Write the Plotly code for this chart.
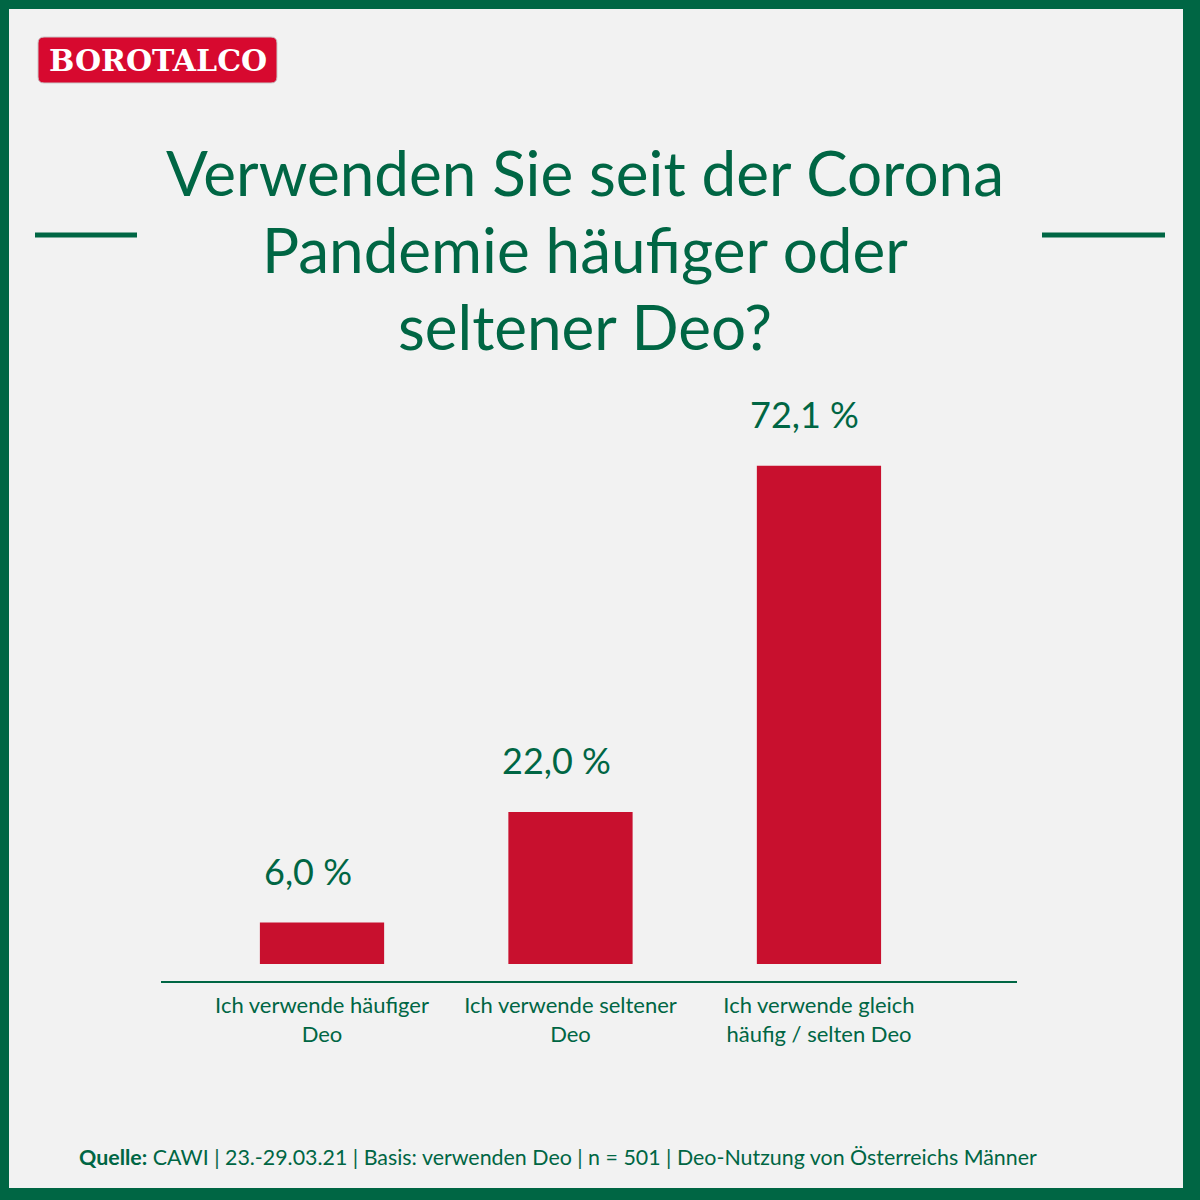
import plotly.graph_objects as go

# Chart data
categories = [
    "Ich verwende häufiger<br>Deo",
    "Ich verwende seltener<br>Deo",
    "Ich verwende gleich<br>häufig / selten Deo",
]
shares = [6.0, 22.0, 72.1]
value_labels = ["6,0 %", "22,0 %", "72,1 %"]

title_lines = [
    "Verwenden Sie seit der Corona",
    "Pandemie häufiger oder",
    "seltener Deo?",
]
source_text = (
    "<b>Quelle:</b> CAWI | 23.-29.03.21 | Basis: verwenden Deo | n = 501 | "
    "Deo-Nutzung von Österreichs Männer"
)

GREEN = "#006644"
RED = "#c8102e"
BG = "#f2f2f2"
W = H = 1200


def px_x(x):
    return x / W


def px_y(y):
    return 1 - y / H


fig = go.Figure()
fig.add_trace(go.Bar(
    x=categories,
    y=shares,
    width=0.5,
    marker={"color": RED, "line": {"width": 0}},
    hoverinfo="skip",
))

# Value labels above each bar
for cat, val, lab in zip(categories, shares, value_labels):
    fig.add_annotation(
        x=cat, y=val, text=lab, showarrow=False,
        xanchor="center", yanchor="bottom", yshift=28, xshift=-14,
        font={"family": "Lato", "size": 36, "color": GREEN},
    )

# Frame, background and decorative lines
shapes = [
    dict(type="rect", xref="paper", yref="paper", x0=0, x1=1, y0=0, y1=1,
         fillcolor=GREEN, line={"width": 0}, layer="below"),
    dict(type="rect", xref="paper", yref="paper",
         x0=px_x(9), x1=px_x(1183), y0=px_y(1188), y1=px_y(9),
         fillcolor=BG, line={"width": 0}, layer="below"),
    dict(type="line", xref="paper", yref="paper",
         x0=px_x(35), x1=px_x(137), y0=px_y(235), y1=px_y(235),
         line={"color": GREEN, "width": 5}, layer="below"),
    dict(type="line", xref="paper", yref="paper",
         x0=px_x(1042), x1=px_x(1165), y0=px_y(235), y1=px_y(235),
         line={"color": GREEN, "width": 5}, layer="below"),
]

# Logo box (rounded red rectangle)
lx0, lx1, ly0, ly1, r = 38, 277, 37, 83, 6
path = (
    f"M {px_x(lx0 + r)} {px_y(ly0)} L {px_x(lx1 - r)} {px_y(ly0)} "
    f"Q {px_x(lx1)} {px_y(ly0)} {px_x(lx1)} {px_y(ly0 + r)} "
    f"L {px_x(lx1)} {px_y(ly1 - r)} "
    f"Q {px_x(lx1)} {px_y(ly1)} {px_x(lx1 - r)} {px_y(ly1)} "
    f"L {px_x(lx0 + r)} {px_y(ly1)} "
    f"Q {px_x(lx0)} {px_y(ly1)} {px_x(lx0)} {px_y(ly1 - r)} "
    f"L {px_x(lx0)} {px_y(ly0 + r)} "
    f"Q {px_x(lx0)} {px_y(ly0)} {px_x(lx0 + r)} {px_y(ly0)} Z"
)
shapes.append(dict(type="path", xref="paper", yref="paper", path=path,
                   fillcolor="#d7092f", line={"color": "#c9c9c9", "width": 1},
                   layer="below"))

fig.add_annotation(
    x=px_x(158), y=px_y(61), xref="paper", yref="paper",
    text="<b>BOROTALCO</b>", showarrow=False,
    xanchor="center", yanchor="middle",
    font={"family": "DejaVu Serif", "size": 30, "color": "white"},
)

# Title lines
for i, line in enumerate(title_lines):
    fig.add_annotation(
        x=px_x(585), y=px_y(172 + 77 * i), xref="paper", yref="paper",
        text=line, showarrow=False, xanchor="center", yanchor="middle",
        font={"family": "Lato", "size": 62, "color": GREEN},
    )

# Source footnote
fig.add_annotation(
    x=px_x(77), y=px_y(1157), xref="paper", yref="paper",
    text=source_text, showarrow=False, xanchor="left", yanchor="middle",
    font={"family": "Lato", "size": 21.4, "color": GREEN},
)

fig.update_layout(
    width=W, height=H,
    margin={"l": 0, "r": 0, "t": 0, "b": 0},
    paper_bgcolor=BG,
    plot_bgcolor="rgba(0,0,0,0)",
    showlegend=False,
    shapes=shapes,
    xaxis={
        "domain": [161 / W, 1017 / W],
        "range": [-0.648, 2.797],
        "showline": True, "linecolor": GREEN, "linewidth": 2,
        "showgrid": False, "zeroline": False, "ticks": "",
        "ticklabelstandoff": 4,
        "tickfont": {"family": "Lato", "size": 22, "color": GREEN},
        "fixedrange": True,
    },
    yaxis={
        "domain": [1 - 981 / H, 1 - 400 / H],
        "range": [-2.46, 81.6],
        "visible": False,
        "fixedrange": True,
    },
)

fig.write_html(
    "out.html",
    config={"displayModeBar": False},
    post_script="document.body.style.margin = '0';",
)
